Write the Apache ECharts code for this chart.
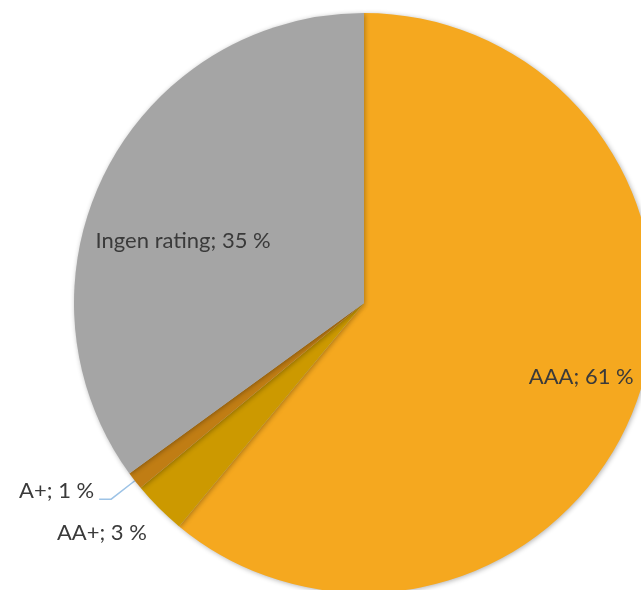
<!DOCTYPE html>
<html>
<head>
<meta charset="utf-8">
<script src="https://cdn.jsdelivr.net/npm/echarts@6/dist/echarts.min.js"></script>
<style>
  html, body { margin: 0; padding: 0; background: #fff; }
  #chart { width: 641px; height: 590px; }
</style>
</head>
<body>
<div id="chart"></div>
<script>
// Rating distribution (share of portfolio, %)
const categories = ['AAA', 'AA+', 'A+', 'Ingen rating'];
const shares = [61, 3, 1, 35];
const colors = ['#F5A81F', '#CC9900', '#C07D14', '#A5A5A5'];

const textColor = '#3A3A3A';
const fontFamily = 'Lato, "Open Sans", sans-serif';
const fontSize = 22;

const labelText = (name, value) => name + '; ' + value + ' %';

// Per-slice label placement; blank lines nudge outside labels up or down
const labelStyles = [
  { position: 'inside', offset: [78, 24] },
  { position: 'outside', lineHeight: 36, formatter: p => '\n' + labelText(p.name, p.value) },
  { position: 'outside', lineHeight: 16, formatter: p => labelText(p.name, p.value) + '\n' },
  { position: 'inside', offset: [-49, 5] }
];
const lineStyles = [
  { show: false },
  { show: false, length: 10, length2: 0 },
  { show: true, length: 30, length2: 12, lineStyle: { color: '#9DC3E6', width: 1.5 } },
  { show: false }
];

const data = categories.map((name, i) => ({
  name,
  value: shares[i],
  itemStyle: { color: colors[i] },
  label: labelStyles[i],
  labelLine: lineStyles[i]
}));

const chart = echarts.init(document.getElementById('chart'), null, { renderer: 'canvas' });
chart.setOption({
  animation: false,
  series: [{
    type: 'pie',
    center: [364, 303],
    radius: 290,
    startAngle: 90,
    clockwise: true,
    avoidLabelOverlap: false,
    labelLayout: { hideOverlap: false },
    itemStyle: {
      borderWidth: 0,
      shadowBlur: 5,
      shadowOffsetX: 1,
      shadowOffsetY: 1,
      shadowColor: 'rgba(0,0,0,0.3)'
    },
    label: {
      color: textColor,
      fontFamily,
      fontSize,
      distanceToLabelLine: 5,
      formatter: p => labelText(p.name, p.value)
    },
    emphasis: { disabled: true },
    data
  }]
});
</script>
</body>
</html>
